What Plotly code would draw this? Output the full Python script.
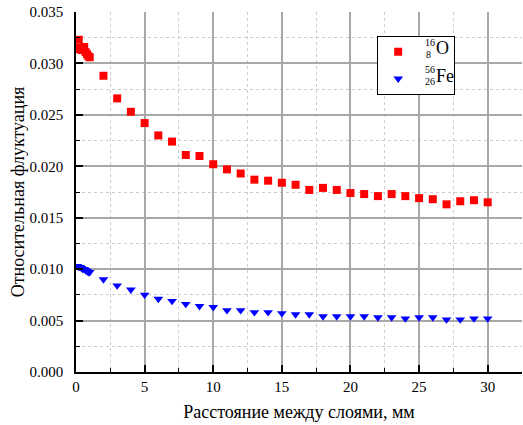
import plotly.graph_objects as go

# ---- data ----
x_vals = [0.1, 0.2, 0.3, 0.4, 0.5, 0.6, 0.7, 0.8, 0.9, 1.0,
          2, 3, 4, 5, 6, 7, 8, 9, 10, 11, 12, 13, 14, 15, 16, 17, 18, 19, 20,
          21, 22, 23, 24, 25, 26, 27, 28, 29, 30]
oxygen = [0.0314, 0.0323, 0.0315, 0.0313, 0.0315, 0.0316, 0.0311, 0.0309, 0.0307, 0.0306,
          0.0288, 0.0266, 0.0253, 0.0242, 0.0230, 0.0224, 0.0211, 0.0210, 0.0202, 0.0197,
          0.0193, 0.0187, 0.0186, 0.0184, 0.0182, 0.0177, 0.0179, 0.0177, 0.0174,
          0.0173, 0.0171, 0.0173, 0.0171, 0.0169, 0.0168, 0.0163, 0.0166, 0.0167, 0.0165]
iron = [0.0103, 0.0102, 0.0102, 0.0101, 0.0100, 0.0100, 0.0099, 0.0098, 0.0097, 0.0097,
        0.0090, 0.0084, 0.0080, 0.0075, 0.0071, 0.0069, 0.0066, 0.0064, 0.0063, 0.0060,
        0.0060, 0.0058, 0.0058, 0.0057, 0.0056, 0.0056, 0.0054, 0.0054, 0.0054,
        0.0054, 0.0053, 0.0053, 0.0052, 0.0053, 0.0053, 0.0051, 0.0051, 0.0052, 0.0052]

x_title = "Расстояние между слоями, мм"
y_title = "Относительная флуктуация"
font_family = "Liberation Serif"

fig = go.Figure()
fig.add_trace(go.Scatter(x=x_vals, y=oxygen, mode="markers", name="\u00a0" * 10,
                         legendgroup="o",
                         marker=dict(symbol="square", size=8, color="#ff0000")))
fig.add_trace(go.Scatter(x=x_vals, y=iron, mode="markers", name="\u00a0" * 10,
                         legendgroup="fe",
                         marker=dict(symbol="triangle-down", size=8.5, color="#0000ff")))

L, R, T, B = 76, 1, 12, 53
W, H = 523, 425
pw, ph = W - L - R, H - T - B


def px(xp):
    return (xp - L) / pw


def py(yp):
    return (H - B - yp) / ph


annos = [
    ("16", 423, 42.5, 10), ("8", 424, 54.5, 10), ("O", 434, 48, 18),
    ("56", 423, 69.5, 10), ("26", 423, 81.5, 10), ("Fe", 434, 76, 18),
]
for txt, xx, yy, fs in annos:
    fig.add_annotation(x=px(xx), y=py(yy), xref="paper", yref="paper", text=txt,
                       showarrow=False, xanchor="left", yanchor="middle",
                       font=dict(family=font_family, size=fs, color="black"))

axis_common = dict(
    showline=True, linecolor="black", linewidth=1.5,
    ticks="inside", ticklen=7, tickwidth=1.5, tickcolor="black",
    showgrid=True, gridcolor="#a8a8a8", gridwidth=1.5,
    zeroline=False,
    tickfont=dict(family=font_family, size=15, color="black"),
    minor=dict(ticks="inside", ticklen=4, tickwidth=1, tickcolor="black",
               showgrid=True, gridcolor="#cccccc", gridwidth=1, griddash="dot"),
)

fig.update_xaxes(range=[0, 32.5], dtick=5, tick0=0, **axis_common)
fig.update_xaxes(minor_dtick=2.5,
                 title=dict(text=x_title, font=dict(family=font_family, size=18, color="black"),
                            standoff=12))
fig.update_yaxes(range=[0, 0.035], dtick=0.005, tick0=0, tickformat=".3f", **axis_common)
fig.update_yaxes(minor_dtick=0.0025, ticklabelstandoff=8,
                 title=dict(text=y_title, font=dict(family=font_family, size=18, color="black"),
                            standoff=0))

fig.update_layout(
    width=W, height=H,
    margin=dict(l=L, r=R, t=T, b=B),
    plot_bgcolor="white", paper_bgcolor="white",
    font=dict(family=font_family, color="black"),
    showlegend=True,
    legend=dict(x=px(377), y=py(36), xanchor="left", yanchor="top",
                bordercolor="black", borderwidth=1.2, bgcolor="white",
                font=dict(family=font_family, size=12, color="black"),
                tracegroupgap=8),
)

fig.write_html("out.html")
